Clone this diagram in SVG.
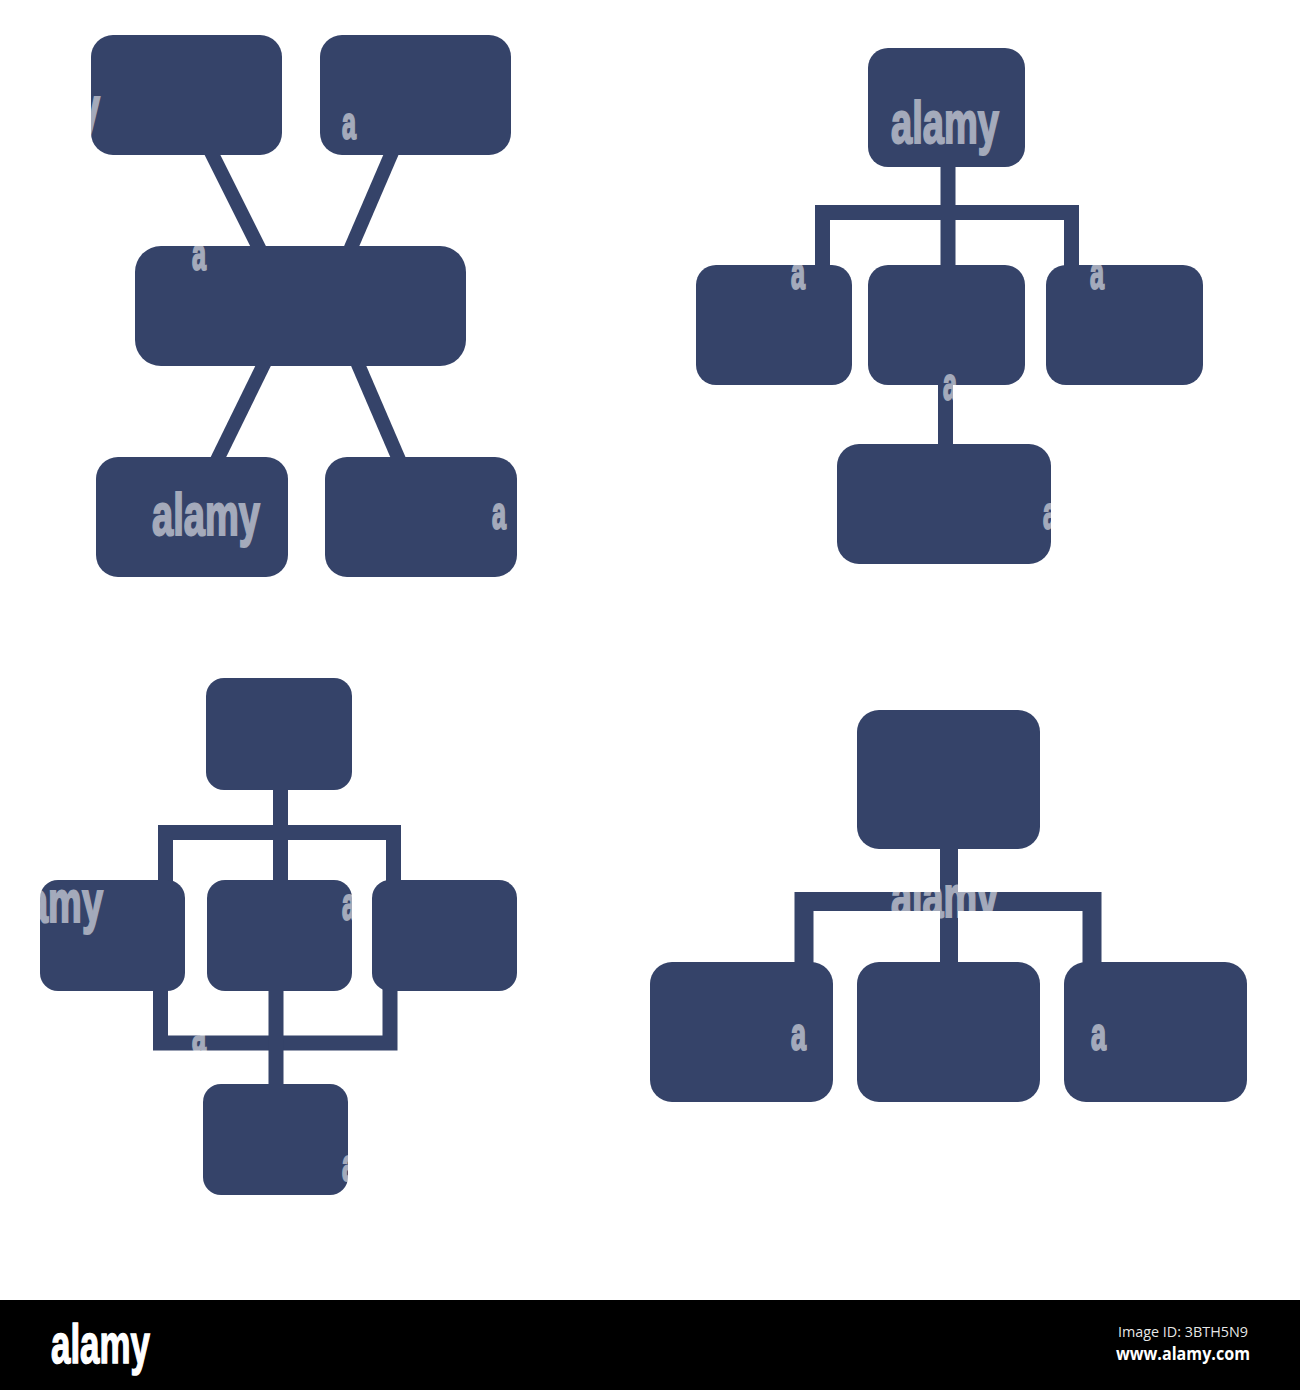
<svg xmlns="http://www.w3.org/2000/svg" width="1300" height="1390" viewBox="0 0 1300 1390">
<style>
.n{fill:#354369}
.c{fill:none;stroke:#354369;stroke-linecap:butt;stroke-linejoin:miter}
.wm{font-family:"Liberation Sans",Arial,sans-serif;font-weight:bold}
.ft{font-family:"Open Sans","DejaVu Sans",sans-serif;fill:#ffffff}
</style>
<rect width="1300" height="1390" fill="#ffffff"/>
<g id="connectors">
<g stroke-width="14" class="c">
<line x1="210" y1="150" x2="260" y2="250"/>
<line x1="393" y1="150" x2="350" y2="250"/>
<line x1="265" y1="362" x2="216" y2="462"/>
<line x1="357" y1="362" x2="400" y2="462"/>
</g>
<g class="c" stroke-width="15">
<line x1="948" y1="160" x2="948" y2="270"/>
<path d="M822.5 270 V212.5 H1071.5 V270"/>
<line x1="945.5" y1="378" x2="945.5" y2="450"/>
</g>
<g class="c" stroke-width="15">
<line x1="280.5" y1="785" x2="280.5" y2="885"/>
<path d="M165.5 885 V832.5 H393.5 V885"/>
<path d="M160.5 985 V1043 H390 V985"/>
<line x1="276" y1="985" x2="276" y2="1090"/>
</g>
<g class="c" stroke-width="18">
<line x1="949" y1="842" x2="949" y2="967"/>
<path d="M804 967 V901.5 H1092 V967" stroke-width="19"/>
</g>
</g>
<g id="diagram1">
<rect id="d1-tl" class="n" x="91" y="35" width="191" height="120" rx="22"/>
<rect id="d1-tr" class="n" x="320" y="35" width="191" height="120" rx="22"/>
<rect id="d1-center" class="n" x="135" y="246" width="331" height="120" rx="26"/>
<rect id="d1-bl" class="n" x="96" y="457" width="192" height="120" rx="22"/>
<rect id="d1-br" class="n" x="325" y="457" width="192" height="120" rx="22"/>
</g>
<g id="diagram2">
<rect id="d2-top" class="n" x="868" y="48" width="157" height="119" rx="20"/>
<rect id="d2-left" class="n" x="696" y="265" width="156" height="120" rx="20"/>
<rect id="d2-mid" class="n" x="868" y="265" width="157" height="120" rx="20"/>
<rect id="d2-right" class="n" x="1046" y="265" width="157" height="120" rx="20"/>
<rect id="d2-bottom" class="n" x="837" y="444" width="214" height="120" rx="22"/>
</g>
<g id="diagram3">
<rect id="d3-top" class="n" x="206" y="678" width="146" height="112" rx="18"/>
<rect id="d3-left" class="n" x="40" y="880" width="145" height="111" rx="18"/>
<rect id="d3-mid" class="n" x="207" y="880" width="145" height="111" rx="18"/>
<rect id="d3-right" class="n" x="372" y="880" width="145" height="111" rx="18"/>
<rect id="d3-bottom" class="n" x="203" y="1084" width="145" height="111" rx="18"/>
</g>
<g id="diagram4">
<rect id="d4-top" class="n" x="857" y="710" width="183" height="139" rx="22"/>
<rect id="d4-left" class="n" x="650" y="962" width="183" height="140" rx="22"/>
<rect id="d4-mid" class="n" x="857" y="962" width="183" height="140" rx="22"/>
<rect id="d4-right" class="n" x="1064" y="962" width="183" height="140" rx="22"/>
</g>
<g id="watermark" class="wm" opacity="0.55" fill="#ffffff" stroke="#ffffff" stroke-width="2">
<text x="79" y="128" font-size="60" textLength="21" lengthAdjust="spacingAndGlyphs">y</text>
<text x="152" y="535" font-size="60" textLength="108" lengthAdjust="spacingAndGlyphs">alamy</text>
<text x="891" y="143" font-size="60" textLength="108" lengthAdjust="spacingAndGlyphs">alamy</text>
<text x="27" y="922" font-size="60" textLength="76" lengthAdjust="spacingAndGlyphs">amy</text>
<text x="891" y="917" font-size="60" textLength="107" lengthAdjust="spacingAndGlyphs">alamy</text>
<g font-size="46">
<text x="342" y="139" textLength="14" lengthAdjust="spacingAndGlyphs">a</text>
<text x="192" y="270" textLength="14" lengthAdjust="spacingAndGlyphs">a</text>
<text x="492" y="529" textLength="14" lengthAdjust="spacingAndGlyphs">a</text>
<text x="791" y="289" textLength="14" lengthAdjust="spacingAndGlyphs">a</text>
<text x="1090" y="289" textLength="14" lengthAdjust="spacingAndGlyphs">a</text>
<text x="943" y="400" textLength="14" lengthAdjust="spacingAndGlyphs">a</text>
<text x="1043" y="529" textLength="14" lengthAdjust="spacingAndGlyphs">a</text>
<text x="342" y="920" textLength="14" lengthAdjust="spacingAndGlyphs">a</text>
<text x="192" y="1052" textLength="14" lengthAdjust="spacingAndGlyphs">a</text>
<text x="342" y="1181" textLength="14" lengthAdjust="spacingAndGlyphs">a</text>
<text x="791" y="1050" textLength="15" lengthAdjust="spacingAndGlyphs">a</text>
<text x="1091" y="1050" textLength="15" lengthAdjust="spacingAndGlyphs">a</text>
</g>
</g>
<g id="footer">
<rect x="0" y="1300" width="1300" height="90" fill="#000000"/>
<text x="51" y="1363" font-family="Liberation Sans, Arial, sans-serif" font-size="56" font-weight="bold" fill="#ffffff" stroke="#ffffff" stroke-width="1.5" textLength="99" lengthAdjust="spacingAndGlyphs">alamy</text>
<text class="ft" x="1118" y="1337" font-size="15" textLength="130" lengthAdjust="spacingAndGlyphs" fill-opacity="0.92">Image ID: 3BTH5N9</text>
<text class="ft" x="1116" y="1360" font-size="17" font-weight="bold" textLength="134" lengthAdjust="spacingAndGlyphs">www.alamy.com</text>
</g>
</svg>
